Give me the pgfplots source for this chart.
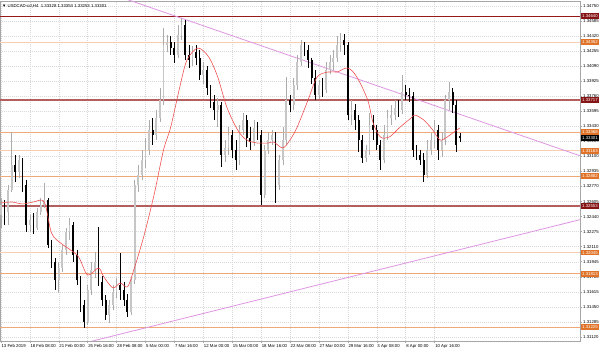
\documentclass[border=0pt]{standalone}
\usepackage{pgfplots}
\usepackage{pgfplotstable}
\pgfplotsset{compat=1.18}
\usepackage{fontspec}
\setmainfont{Liberation Sans}
\definecolor{lvlDark}{RGB}{150,25,25}
\definecolor{lvlMid}{RGB}{180,95,95}
\definecolor{lvlOrange}{RGB}{240,168,122}
\definecolor{lvlPeach}{RGB}{246,205,178}
\definecolor{boxRed}{RGB}{135,20,20}
\definecolor{boxOrange}{RGB}{225,115,40}
\definecolor{trend}{RGB}{222,150,226}
\definecolor{maRed}{RGB}{240,70,70}
\newcommand{\tf}{\fontsize{4.3}{4.6}\selectfont}

\pgfplotstableread{
x o h l c
0 1.32457 1.32644 1.32315 1.32567
2 1.32567 1.32622 1.32348 1.32490
4 1.32490 1.32786 1.32348 1.32732
6 1.32732 1.33368 1.32710 1.33006
8 1.33006 1.33116 1.32819 1.32929
10 1.32929 1.33116 1.32863 1.33061
12 1.33061 1.33083 1.32710 1.32786
14 1.32786 1.32841 1.32271 1.32348
16 1.32348 1.32457 1.32271 1.32403
18 1.32403 1.32479 1.32249 1.32315
20 1.32315 1.32534 1.32293 1.32490
22 1.32490 1.32644 1.32457 1.32567
24 1.32567 1.32808 1.32534 1.32622
26 1.32622 1.32644 1.32095 1.32128
28 1.32128 1.32183 1.31876 1.31942
30 1.31942 1.31986 1.31635 1.31744
32 1.31744 1.31942 1.31602 1.31876
34 1.31876 1.32128 1.31832 1.32074
36 1.32074 1.32315 1.32019 1.32271
38 1.32271 1.32424 1.32183 1.32348
40 1.32348 1.32381 1.31942 1.32019
42 1.32019 1.32074 1.31689 1.31744
44 1.31744 1.31788 1.31393 1.31470
46 1.31470 1.31525 1.31218 1.31284
48 1.31284 1.31689 1.31251 1.31635
50 1.31635 1.31942 1.31580 1.31854
52 1.31854 1.32052 1.31766 1.31942
54 1.31942 1.32326 1.31678 1.31722
56 1.31722 1.31788 1.31459 1.31525
58 1.31525 1.31580 1.31306 1.31360
60 1.31360 1.31525 1.31273 1.31470
62 1.31470 1.31689 1.31415 1.31613
64 1.31613 1.31766 1.31547 1.31689
66 1.31689 1.32041 1.31525 1.31635
68 1.31635 1.31722 1.31459 1.31525
70 1.31525 1.31591 1.31338 1.31393
72 1.31393 1.31766 1.31360 1.31744
74 1.31744 1.32841 1.31700 1.32786
76 1.32786 1.33006 1.32710 1.32896
78 1.32896 1.33171 1.32841 1.33061
80 1.33061 1.33302 1.32973 1.33171
82 1.33171 1.33500 1.33116 1.33390
84 1.33390 1.33521 1.33225 1.33335
86 1.33335 1.33609 1.33280 1.33521
88 1.33521 1.33850 1.33478 1.33719
90 1.33719 1.34509 1.33664 1.34322
92 1.34322 1.34432 1.34246 1.34355
94 1.34355 1.34421 1.34213 1.34289
96 1.34289 1.34355 1.34125 1.34213
98 1.34213 1.34542 1.34180 1.34432
100 1.34432 1.34618 1.34377 1.34542
102 1.34542 1.34597 1.34158 1.34213
104 1.34213 1.34322 1.34070 1.34158
106 1.34158 1.34311 1.34092 1.34246
108 1.34246 1.34322 1.34103 1.34180
110 1.34180 1.34268 1.33938 1.33993
112 1.33993 1.34136 1.33894 1.34048
114 1.34048 1.34092 1.33774 1.33850
116 1.33850 1.33883 1.33631 1.33697
118 1.33697 1.33774 1.33500 1.33609
120 1.33609 1.33741 1.33423 1.33664
122 1.33664 1.33697 1.32984 1.33116
124 1.33116 1.33280 1.33039 1.33192
126 1.33192 1.33423 1.33116 1.33335
128 1.33335 1.33390 1.33083 1.33171
130 1.33171 1.33280 1.32951 1.33061
132 1.33061 1.33445 1.33006 1.33390
134 1.33390 1.33576 1.33335 1.33500
136 1.33500 1.33554 1.33203 1.33302
138 1.33302 1.33423 1.33171 1.33258
140 1.33258 1.33500 1.33214 1.33412
142 1.33412 1.33478 1.33280 1.33335
144 1.33335 1.33390 1.32567 1.32677
146 1.32677 1.33225 1.32644 1.33171
148 1.33171 1.33368 1.33127 1.33280
150 1.33280 1.33390 1.33225 1.33335
152 1.33335 1.33368 1.32589 1.32786
154 1.32786 1.33116 1.32732 1.33061
156 1.33061 1.33423 1.33006 1.33280
158 1.33280 1.33971 1.33225 1.33719
160 1.33719 1.33774 1.33587 1.33664
162 1.33664 1.33960 1.33609 1.33883
164 1.33883 1.34213 1.33829 1.34136
166 1.34136 1.34377 1.34092 1.34322
168 1.34322 1.34355 1.34202 1.34268
170 1.34268 1.34322 1.34070 1.34158
172 1.34158 1.34180 1.33894 1.33960
174 1.33960 1.34048 1.33719 1.33774
176 1.33774 1.33938 1.33730 1.33883
178 1.33883 1.33960 1.33752 1.33829
180 1.33829 1.34136 1.33796 1.34048
182 1.34048 1.34213 1.34004 1.34136
184 1.34136 1.34268 1.34048 1.34180
186 1.34180 1.34421 1.34136 1.34322
188 1.34322 1.34454 1.34246 1.34377
190 1.34377 1.34443 1.34213 1.34322
192 1.34322 1.34355 1.33500 1.33554
194 1.33554 1.33719 1.33445 1.33609
196 1.33609 1.33675 1.33390 1.33500
198 1.33500 1.33554 1.33149 1.33280
200 1.33280 1.33335 1.33028 1.33083
202 1.33083 1.33225 1.33039 1.33171
204 1.33171 1.33576 1.33116 1.33445
206 1.33445 1.33554 1.33280 1.33390
208 1.33390 1.33445 1.33171 1.33225
210 1.33225 1.33280 1.32951 1.33061
212 1.33061 1.33445 1.33028 1.33335
214 1.33335 1.33609 1.33280 1.33521
216 1.33521 1.33664 1.33445 1.33554
218 1.33554 1.33719 1.33500 1.33631
220 1.33631 1.33719 1.33532 1.33609
222 1.33609 1.33993 1.33565 1.33807
224 1.33807 1.33883 1.33719 1.33774
226 1.33774 1.33850 1.33697 1.33763
228 1.33763 1.33807 1.33094 1.33171
230 1.33171 1.33225 1.33061 1.33116
232 1.33116 1.33171 1.33006 1.33061
234 1.33061 1.33138 1.32819 1.32896
236 1.32896 1.33280 1.32863 1.33171
238 1.33171 1.33357 1.33116 1.33280
240 1.33280 1.33500 1.33192 1.33390
242 1.33390 1.33445 1.33061 1.33171
244 1.33171 1.33368 1.33094 1.33280
246 1.33280 1.33774 1.33225 1.33719
248 1.33719 1.33916 1.33609 1.33807
250 1.33807 1.33850 1.33576 1.33664
252 1.33664 1.33719 1.33149 1.33225
254 1.33328 1.33353 1.33253 1.33301
}\candles

\begin{document}
\begin{tikzpicture}
\path[fill=white,use as bounding box] (0,0) rectangle (600pt,352pt);
\begin{axis}[
  at={(0pt,11pt)}, anchor=south west,
  scale only axis, width=580pt, height=340pt,
  xmin=-0.5, xmax=320.5, ymin=1.31075, ymax=1.34805,
  clip mode=individual,
  axis line style={gray!70, line width=0.5pt},
  xtick={0,16,32,48,64,80,96,112,128,144,160,176,192,208,224,240},
  xticklabels={13 Feb 2019,18 Feb 08:00,21 Feb 00:00,25 Feb 16:00,28 Feb 08:00,5 Mar 00:00,7 Mar 16:00,12 Mar 00:00,15 Mar 00:00,18 Mar 16:00,22 Mar 08:00,27 Mar 00:00,29 Mar 16:00,3 Apr 08:00,8 Apr 00:00,10 Apr 16:00},
  ytick={1.31120,1.31285,1.31450,1.31615,1.31780,1.31945,1.32110,1.32275,1.32440,1.32605,1.32770,1.32935,1.33100,1.33265,1.33430,1.33595,1.33760,1.33925,1.34090,1.34255,1.34420,1.34585,1.34750},
  yticklabels={1.31120,1.31285,1.31450,1.31615,1.31780,1.31945,1.32110,1.32275,1.32440,1.32605,1.32770,1.32935,1.33100,1.33265,1.33430,1.33595,1.33760,1.33925,1.34090,1.34255,1.34420,1.34585,1.34750},
  xtick pos=bottom, ytick pos=right, yticklabel pos=right,
  tick align=outside, major tick length=2pt,
  tick style={gray!70, line width=0.4pt},
  xticklabel style={font=\tf, anchor=north west, inner sep=0.5pt, yshift=-0.5pt},
  yticklabel style={font=\tf, anchor=west, inner sep=0.5pt, xshift=0.5pt},
  grid=major,
  major grid style={gray!30, line width=0.3pt, dash pattern=on 1pt off 1pt},
]
% horizontal levels
\addplot[lvlPeach, line width=1.5pt, forget plot] coordinates {(-0.5,1.34352) (320.5,1.34352)};
\addplot[lvlOrange, line width=0.9pt, forget plot] coordinates {(-0.5,1.33368) (320.5,1.33368)};
\addplot[lvlPeach, line width=1.5pt, forget plot] coordinates {(-0.5,1.33163) (320.5,1.33163)};
\addplot[lvlOrange, line width=0.9pt, forget plot] coordinates {(-0.5,1.32882) (320.5,1.32882)};
\addplot[lvlPeach, line width=1.5pt, forget plot] coordinates {(-0.5,1.32045) (320.5,1.32045)};
\addplot[lvlOrange, line width=0.9pt, forget plot] coordinates {(-0.5,1.31813) (320.5,1.31813)};
\addplot[lvlOrange, line width=0.9pt, forget plot] coordinates {(-0.5,1.31225) (320.5,1.31225)};
\addplot[lvlDark, line width=1pt, forget plot] coordinates {(-0.5,1.34640) (320.5,1.34640)};
\addplot[lvlMid, line width=1.8pt, forget plot] coordinates {(-0.5,1.33717) (320.5,1.33717)};
\addplot[lvlMid, line width=1.8pt, forget plot] coordinates {(-0.5,1.32553) (320.5,1.32553)};
% trend lines
\addplot[trend, line width=0.8pt, forget plot] coordinates {(70,1.34821) (320.5,1.33107)};
\addplot[trend, line width=0.8pt, forget plot] coordinates {(50,1.31071) (320.5,1.32406)};
% wicks
\addplot[forget plot, draw=none, mark=none, error bars/.cd, y dir=plus, y explicit, error mark=none,
  error bar style={line width=0.5pt, draw=gray!65}]
  table[x=x, y=l, y error plus expr={ifthenelse(\thisrow{c}>\thisrow{o},\thisrow{h}-\thisrow{l},0)}] {\candles};
\addplot[forget plot, draw=none, mark=none, error bars/.cd, y dir=plus, y explicit, error mark=none,
  error bar style={line width=0.5pt, draw=black}]
  table[x=x, y=l, y error plus expr={ifthenelse(\thisrow{c}>\thisrow{o},0,\thisrow{h}-\thisrow{l})}] {\candles};
% bodies
\addplot[forget plot, draw=none, mark=none, error bars/.cd, y dir=plus, y explicit, error mark=none,
  error bar style={line width=1.8pt, draw=gray!45}]
  table[x=x, y=o, y error plus expr={max(\thisrow{c}-\thisrow{o},0)}] {\candles};
\addplot[forget plot, draw=none, mark=none, error bars/.cd, y dir=plus, y explicit, error mark=none,
  error bar style={line width=1.8pt, draw=black}]
  table[x=x, y=c, y error plus expr={max(\thisrow{o}-\thisrow{c},0)}] {\candles};
% moving average
\addplot[maRed, line width=0.55pt, smooth, forget plot] coordinates {
(0,1.32589) (6,1.32600) (12,1.32578) (18,1.32600) (24,1.32600) (28,1.32260) (33,1.32150) (37,1.32095)
(43,1.31997) (48,1.31799) (54,1.31876) (57,1.31777) (62,1.31657) (66,1.31711) (70,1.31668)
(73,1.31821) (79,1.32216) (85,1.32699) (90,1.33171) (94,1.33423) (99,1.33861) (103,1.34158)
(109,1.34289) (115,1.34191) (120,1.33971) (125,1.33642) (131,1.33390) (136,1.33280)
(142,1.33247) (148,1.33247) (151,1.33258) (156,1.33192) (160,1.33280) (164,1.33423)
(170,1.33719) (175,1.33971) (181,1.34026) (186,1.34026) (192,1.34070) (197,1.33971)
(203,1.33719) (206,1.33467) (210,1.33313) (215,1.33313) (221,1.33423) (227,1.33521)
(229,1.33554) (234,1.33500) (239,1.33390) (243,1.33280) (247,1.33313) (250,1.33357) (254,1.33412)};
% title
\node[anchor=north west, font=\tf, inner sep=0pt] at (rel axis cs:0,1) [xshift=2pt, yshift=-3pt] {▼\ USDCAD-cd,H4\ \ 1.33328 1.33353 1.33253 1.33301};
% price boxes
\tikzset{pbox/.style={anchor=west, text=white, font=\tf, inner sep=0.4pt, minimum height=5.8pt, minimum width=17.5pt, xshift=1pt}}
\node[pbox, fill=boxRed] at ({rel axis cs:1,0}|-{axis cs:0,1.34640}) {1.34640};
\node[pbox, fill=boxOrange] at ({rel axis cs:1,0}|-{axis cs:0,1.34352}) {1.34352};
\node[pbox, fill=boxRed] at ({rel axis cs:1,0}|-{axis cs:0,1.33717}) {1.33717};
\node[pbox, fill=boxOrange] at ({rel axis cs:1,0}|-{axis cs:0,1.33368}) {1.33368};
\node[pbox, fill=black] at ({rel axis cs:1,0}|-{axis cs:0,1.33301}) {1.33301};
\node[pbox, fill=boxOrange] at ({rel axis cs:1,0}|-{axis cs:0,1.33163}) {1.33163};
\node[pbox, fill=boxOrange] at ({rel axis cs:1,0}|-{axis cs:0,1.32882}) {1.32882};
\node[pbox, fill=boxRed] at ({rel axis cs:1,0}|-{axis cs:0,1.32553}) {1.32553};
\node[pbox, fill=boxOrange] at ({rel axis cs:1,0}|-{axis cs:0,1.32045}) {1.32045};
\node[pbox, fill=boxOrange] at ({rel axis cs:1,0}|-{axis cs:0,1.31813}) {1.31813};
\node[pbox, fill=boxOrange] at ({rel axis cs:1,0}|-{axis cs:0,1.31225}) {1.31225};
\end{axis}
\end{tikzpicture}
\end{document}
